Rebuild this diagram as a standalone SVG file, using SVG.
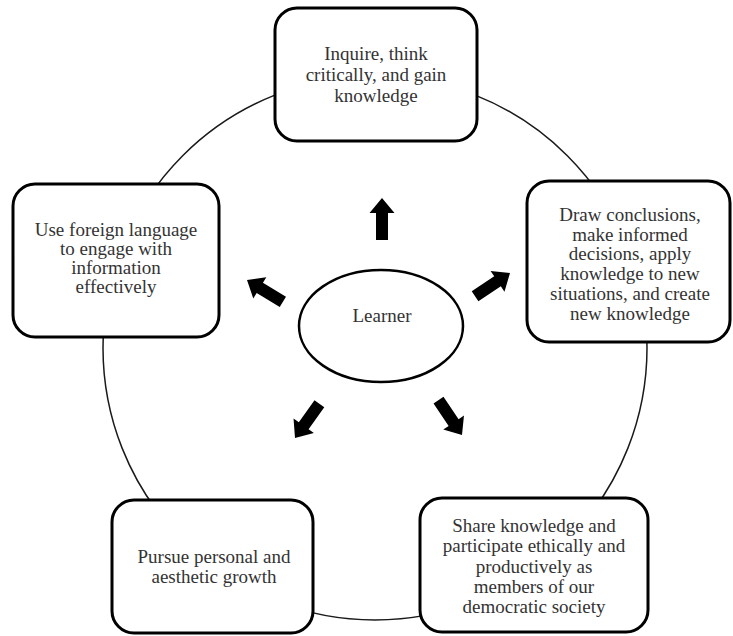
<svg xmlns="http://www.w3.org/2000/svg" xmlns:xlink="http://www.w3.org/1999/xlink" width="733" height="636" viewBox="0 0 733 636">
  <style>
    .box { fill: #ffffff; stroke: #000000; stroke-width: 3; }
    .lbl { font-family: 'Liberation Serif', 'Times New Roman', 'DejaVu Serif', serif; font-size: 19px; fill: #333333; text-anchor: middle; }
    .ring { fill: none; stroke: #1a1a1a; stroke-width: 1.5; }
    .arrow { fill: #000000; }
  </style>
  <defs>
    <path id="arrow" class="arrow" d="M0,0 L12.5,15 L6,15 L6,42 L-6,42 L-6,15 L-12.5,15 Z"/>
  </defs>
  <rect width="733" height="636" fill="#ffffff"/>

  <g id="ring">
    <circle class="ring" cx="375" cy="348" r="272"/>
  </g>

  <g id="connectors">
    <use xlink:href="#arrow" href="#arrow" transform="translate(382,198)"/>
    <use xlink:href="#arrow" href="#arrow" transform="translate(247,280) rotate(-58.6)"/>
    <use xlink:href="#arrow" href="#arrow" transform="translate(510,273) rotate(56.3)"/>
    <use xlink:href="#arrow" href="#arrow" transform="translate(295,438) rotate(-144.5)"/>
    <use xlink:href="#arrow" href="#arrow" transform="translate(462,435) rotate(146)"/>
  </g>

  <g id="learner">
    <ellipse cx="381" cy="326" rx="82" ry="56" fill="#ffffff" stroke="#000000" stroke-width="2.5"/>
    <text class="lbl" x="382" y="322">Learner</text>
  </g>

  <g id="inquire">
    <rect class="box" x="275" y="8" width="202" height="133" rx="22" ry="22"/>
    <text class="lbl" x="376" y="60">Inquire, think</text>
    <text class="lbl" x="376" y="81">critically, and gain</text>
    <text class="lbl" x="376" y="102">knowledge</text>
  </g>

  <g id="draw-conclusions">
    <rect class="box" x="527" y="181" width="203" height="161" rx="22" ry="22"/>
    <text class="lbl" x="630" y="221">Draw conclusions,</text>
    <text class="lbl" x="630" y="241">make informed</text>
    <text class="lbl" x="630" y="260">decisions, apply</text>
    <text class="lbl" x="630" y="280">knowledge to new</text>
    <text class="lbl" x="630" y="300">situations, and create</text>
    <text class="lbl" x="630" y="320">new knowledge</text>
  </g>

  <g id="foreign-language">
    <rect class="box" x="13" y="184" width="206" height="153" rx="22" ry="22"/>
    <text class="lbl" x="116" y="236">Use foreign language</text>
    <text class="lbl" x="116" y="255">to engage with</text>
    <text class="lbl" x="116" y="274">information</text>
    <text class="lbl" x="116" y="293">effectively</text>
  </g>

  <g id="personal-growth">
    <rect class="box" x="112" y="500" width="201" height="133" rx="22" ry="22"/>
    <text class="lbl" x="214" y="563">Pursue personal and</text>
    <text class="lbl" x="214" y="583">aesthetic growth</text>
  </g>

  <g id="share-knowledge">
    <rect class="box" x="420" y="498" width="228" height="134" rx="22" ry="22"/>
    <text class="lbl" x="534" y="532">Share knowledge and</text>
    <text class="lbl" x="534" y="552">participate ethically and</text>
    <text class="lbl" x="534" y="573">productively as</text>
    <text class="lbl" x="534" y="593">members of our</text>
    <text class="lbl" x="534" y="613">democratic society</text>
  </g>
</svg>
